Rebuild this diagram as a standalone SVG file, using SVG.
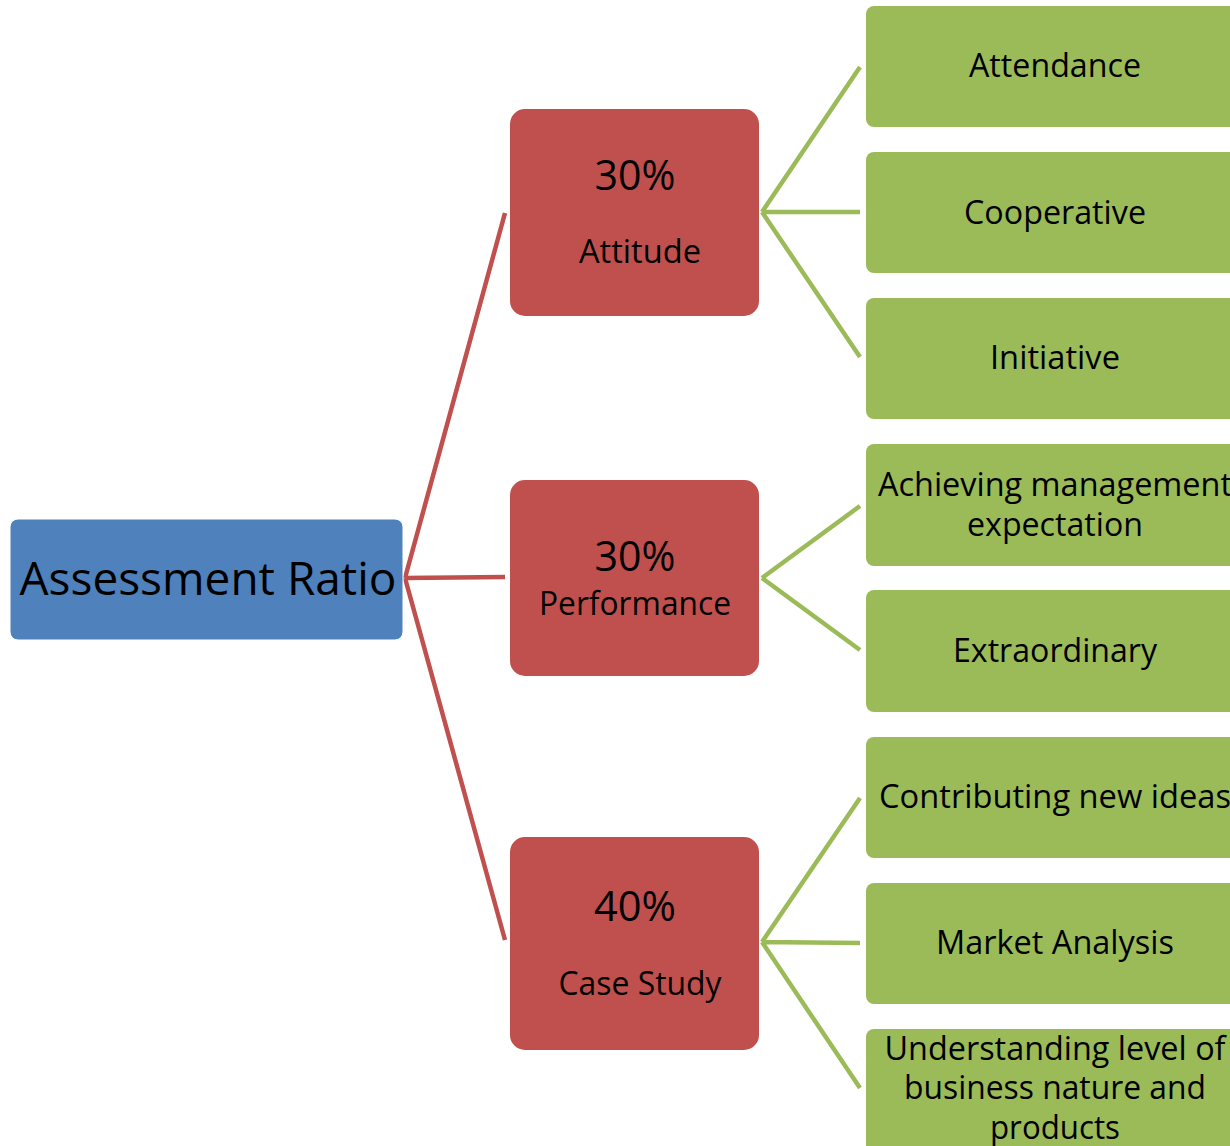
<svg xmlns="http://www.w3.org/2000/svg" width="1230" height="1146" viewBox="0 0 1230 1146">
<style>
text{font-family:"Open Sans","Noto Sans","Liberation Sans",sans-serif;fill:#000;text-anchor:middle}
.blue{fill:#4F81BD;stroke:#ffffff;stroke-width:1}
.red{fill:#C0504D}
.green{fill:#9BBB59}
.lr{stroke:#C0504D;stroke-width:4.5;fill:none}
.lg{stroke:#9BBB59;stroke-width:4.5;fill:none}
.t32{font-size:32px}
.t42{font-size:42px}
</style>
<rect width="1230" height="1146" fill="#ffffff"/>
<g id="connectors">
<path class="lr" d="M405,578 L505,213 M405,578 L505,577 M405,578 L505,940"/>
<path class="lg" d="M762,212 L860,67 M762,212 L860,212 M762,212 L860,357"/>
<path class="lg" d="M762,578 L860,506 M762,578 L860,650"/>
<path class="lg" d="M762,942 L860,798 M762,942 L860,943 M762,942 L860,1088"/>
</g>
<g id="root">
<rect class="blue" x="10" y="519" width="393" height="121" rx="8"/>
<text x="208" y="595" font-size="46" textLength="377" lengthAdjust="spacingAndGlyphs">Assessment Ratio</text>
</g>
<g id="attitude">
<rect class="red" x="510" y="109" width="249" height="207" rx="15"/>
<text class="t42" x="635" y="190" textLength="81" lengthAdjust="spacingAndGlyphs">30%</text>
<text class="t32" x="640" y="263" textLength="122" lengthAdjust="spacingAndGlyphs">Attitude</text>
</g>
<g id="performance">
<rect class="red" x="510" y="480" width="249" height="196" rx="15"/>
<text class="t42" x="635" y="571" textLength="81" lengthAdjust="spacingAndGlyphs">30%</text>
<text class="t32" x="635" y="615" textLength="192" lengthAdjust="spacingAndGlyphs">Performance</text>
</g>
<g id="casestudy">
<rect class="red" x="510" y="837" width="249" height="213" rx="15"/>
<text class="t42" x="635" y="921" textLength="82" lengthAdjust="spacingAndGlyphs">40%</text>
<text class="t32" x="640" y="995" textLength="163" lengthAdjust="spacingAndGlyphs">Case Study</text>
</g>
<g id="attendance">
<rect class="green" x="866" y="6" width="400" height="121" rx="8"/>
<text class="t32" x="1055" y="77" textLength="172" lengthAdjust="spacingAndGlyphs">Attendance</text>
</g>
<g id="cooperative">
<rect class="green" x="866" y="152" width="400" height="121" rx="8"/>
<text class="t32" x="1055" y="224" textLength="182" lengthAdjust="spacingAndGlyphs">Cooperative</text>
</g>
<g id="initiative">
<rect class="green" x="866" y="298" width="400" height="121" rx="8"/>
<text class="t32" x="1055" y="369" textLength="130" lengthAdjust="spacingAndGlyphs">Initiative</text>
</g>
<g id="achieving">
<rect class="green" x="866" y="444" width="400" height="122" rx="8"/>
<text class="t32" x="1055" y="496" textLength="354" lengthAdjust="spacingAndGlyphs">Achieving management</text>
<text class="t32" x="1055" y="536" textLength="176" lengthAdjust="spacingAndGlyphs">expectation</text>
</g>
<g id="extraordinary">
<rect class="green" x="866" y="590" width="400" height="122" rx="8"/>
<text class="t32" x="1055" y="662" textLength="204" lengthAdjust="spacingAndGlyphs">Extraordinary</text>
</g>
<g id="contributing">
<rect class="green" x="866" y="737" width="400" height="121" rx="8"/>
<text class="t32" x="1055" y="808" textLength="352" lengthAdjust="spacingAndGlyphs">Contributing new ideas</text>
</g>
<g id="market">
<rect class="green" x="866" y="883" width="400" height="121" rx="8"/>
<text class="t32" x="1055" y="954" textLength="238" lengthAdjust="spacingAndGlyphs">Market Analysis</text>
</g>
<g id="understanding">
<rect class="green" x="866" y="1029" width="400" height="140" rx="8"/>
<text class="t32" x="1055" y="1060" textLength="341" lengthAdjust="spacingAndGlyphs">Understanding level of</text>
<text class="t32" x="1055" y="1099" textLength="302" lengthAdjust="spacingAndGlyphs">business nature and</text>
<text class="t32" x="1055" y="1139" textLength="130" lengthAdjust="spacingAndGlyphs">products</text>
</g>
</svg>
